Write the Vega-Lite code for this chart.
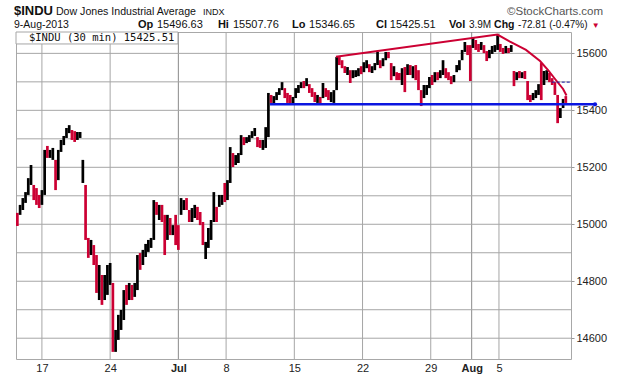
{
"$schema": "https://vega.github.io/schema/vega-lite/v6.json",
"width": 555,
"height": 327,
"autosize": {"type": "none"},
"padding": {"left": 16, "top": 32, "right": 49, "bottom": 17},
"background": "white",
"config": {"view": {"stroke": "#a8a8a8", "strokeWidth": 1}, "font": "Liberation Sans"},
"datasets": {
"xgrid": [{"t":0,"m":0},{"t":5,"m":0},{"t":10,"m":1},{"t":13.5,"m":0},{"t":18.5,"m":0},{"t":23.5,"m":0},{"t":28.5,"m":0},{"t":31.5,"m":1},{"t":33.5,"m":0}],
"ygrid": [{"v":14600},{"v":14700},{"v":14800},{"v":14900},{"v":15000},{"v":15100},{"v":15200},{"v":15300},{"v":15400},{"v":15500},{"v":15600}],
"bars": [
{"t":-1.8,"h":15040,"l":14994,"o":15040,"c":14994},
{"t":-1.6,"h":15068,"l":15033,"o":15033,"c":15068},
{"t":-1.4,"h":15092,"l":15050,"o":15050,"c":15092},
{"t":-1.2,"h":15113,"l":15075,"o":15075,"c":15113},
{"t":-1.0,"h":15162,"l":15103,"o":15103,"c":15162},
{"t":-0.8,"h":15208,"l":15138,"o":15138,"c":15208},
{"t":-0.6,"h":15138,"l":15085,"o":15138,"c":15085},
{"t":-0.4,"h":15127,"l":15068,"o":15127,"c":15068},
{"t":-0.2,"h":15103,"l":15057,"o":15103,"c":15057},
{"t":0.0,"h":15120,"l":15068,"o":15068,"c":15120},
{"t":0.2,"h":15261,"l":15103,"o":15103,"c":15261},
{"t":0.4,"h":15275,"l":15233,"o":15275,"c":15233},
{"t":0.6,"h":15261,"l":15233,"o":15233,"c":15261},
{"t":0.8,"h":15268,"l":15226,"o":15226,"c":15268},
{"t":1.0,"h":15226,"l":15120,"o":15226,"c":15120},
{"t":1.2,"h":15261,"l":15155,"o":15155,"c":15261},
{"t":1.4,"h":15296,"l":15254,"o":15254,"c":15296},
{"t":1.6,"h":15310,"l":15278,"o":15278,"c":15310},
{"t":1.8,"h":15338,"l":15303,"o":15303,"c":15338},
{"t":2.0,"h":15348,"l":15320,"o":15320,"c":15348},
{"t":2.2,"h":15331,"l":15296,"o":15331,"c":15296},
{"t":2.4,"h":15327,"l":15289,"o":15327,"c":15289},
{"t":2.6,"h":15324,"l":15296,"o":15296,"c":15324},
{"t":2.8,"h":15324,"l":15303,"o":15303,"c":15324},
{"t":3.0,"h":15226,"l":15145,"o":15145,"c":15226},
{"t":3.2,"h":15138,"l":14945,"o":15138,"c":14945},
{"t":3.4,"h":14952,"l":14882,"o":14952,"c":14882},
{"t":3.6,"h":14945,"l":14892,"o":14892,"c":14945},
{"t":3.8,"h":14927,"l":14857,"o":14927,"c":14857},
{"t":4.0,"h":14892,"l":14759,"o":14892,"c":14759},
{"t":4.2,"h":14857,"l":14734,"o":14734,"c":14857},
{"t":4.4,"h":14822,"l":14717,"o":14822,"c":14717},
{"t":4.6,"h":14822,"l":14734,"o":14734,"c":14822},
{"t":4.8,"h":14857,"l":14752,"o":14752,"c":14857},
{"t":5.0,"h":14864,"l":14787,"o":14787,"c":14864},
{"t":5.2,"h":14794,"l":14552,"o":14794,"c":14552},
{"t":5.4,"h":14629,"l":14552,"o":14552,"c":14629},
{"t":5.6,"h":14682,"l":14594,"o":14594,"c":14682},
{"t":5.8,"h":14699,"l":14629,"o":14629,"c":14699},
{"t":6.0,"h":14769,"l":14664,"o":14664,"c":14769},
{"t":6.2,"h":14787,"l":14717,"o":14787,"c":14717},
{"t":6.4,"h":14794,"l":14734,"o":14734,"c":14794},
{"t":6.6,"h":14787,"l":14734,"o":14787,"c":14734},
{"t":6.8,"h":14794,"l":14745,"o":14745,"c":14794},
{"t":7.0,"h":14892,"l":14769,"o":14769,"c":14892},
{"t":7.2,"h":14899,"l":14840,"o":14899,"c":14840},
{"t":7.4,"h":14910,"l":14857,"o":14857,"c":14910},
{"t":7.6,"h":14931,"l":14885,"o":14885,"c":14931},
{"t":7.8,"h":14945,"l":14903,"o":14903,"c":14945},
{"t":8.0,"h":14952,"l":14917,"o":14917,"c":14952},
{"t":8.2,"h":15085,"l":14945,"o":14945,"c":15085},
{"t":8.4,"h":15078,"l":15033,"o":15078,"c":15033},
{"t":8.6,"h":15068,"l":15015,"o":15015,"c":15068},
{"t":8.8,"h":15068,"l":15008,"o":15068,"c":15008},
{"t":9.0,"h":15033,"l":14892,"o":15033,"c":14892},
{"t":9.2,"h":15033,"l":14945,"o":14945,"c":15033},
{"t":9.4,"h":15022,"l":14962,"o":15022,"c":14962},
{"t":9.6,"h":14997,"l":14962,"o":14962,"c":14997},
{"t":9.8,"h":15033,"l":14927,"o":15033,"c":14927},
{"t":10.0,"h":14997,"l":14910,"o":14997,"c":14910},
{"t":10.2,"h":15092,"l":15033,"o":15033,"c":15092},
{"t":10.4,"h":15085,"l":15050,"o":15050,"c":15085},
{"t":10.6,"h":15092,"l":15050,"o":15092,"c":15050},
{"t":10.8,"h":15050,"l":15008,"o":15050,"c":15008},
{"t":11.0,"h":15057,"l":15008,"o":15008,"c":15057},
{"t":11.2,"h":15068,"l":15022,"o":15022,"c":15068},
{"t":11.4,"h":15061,"l":15015,"o":15061,"c":15015},
{"t":11.6,"h":15043,"l":14997,"o":15043,"c":14997},
{"t":11.8,"h":15008,"l":14927,"o":15008,"c":14927},
{"t":12.0,"h":14938,"l":14878,"o":14878,"c":14938},
{"t":12.2,"h":14987,"l":14917,"o":14917,"c":14987},
{"t":12.4,"h":15015,"l":14945,"o":14945,"c":15015},
{"t":12.6,"h":15113,"l":15008,"o":15008,"c":15113},
{"t":12.8,"h":15061,"l":15008,"o":15061,"c":15008},
{"t":13.0,"h":15103,"l":15061,"o":15061,"c":15103},
{"t":13.2,"h":15103,"l":15068,"o":15068,"c":15103},
{"t":13.4,"h":15145,"l":15078,"o":15145,"c":15078},
{"t":13.6,"h":15155,"l":15085,"o":15085,"c":15155},
{"t":13.8,"h":15271,"l":15145,"o":15145,"c":15271},
{"t":14.0,"h":15250,"l":15201,"o":15250,"c":15201},
{"t":14.2,"h":15243,"l":15208,"o":15208,"c":15243},
{"t":14.4,"h":15250,"l":15215,"o":15215,"c":15250},
{"t":14.6,"h":15313,"l":15243,"o":15243,"c":15313},
{"t":14.8,"h":15306,"l":15278,"o":15306,"c":15278},
{"t":15.0,"h":15306,"l":15285,"o":15285,"c":15306},
{"t":15.2,"h":15313,"l":15289,"o":15289,"c":15313},
{"t":15.4,"h":15327,"l":15303,"o":15303,"c":15327},
{"t":15.6,"h":15338,"l":15310,"o":15310,"c":15338},
{"t":15.8,"h":15306,"l":15271,"o":15306,"c":15271},
{"t":16.0,"h":15296,"l":15268,"o":15296,"c":15268},
{"t":16.2,"h":15296,"l":15261,"o":15261,"c":15296},
{"t":16.4,"h":15341,"l":15268,"o":15268,"c":15341},
{"t":16.6,"h":15461,"l":15306,"o":15306,"c":15461},
{"t":16.8,"h":15454,"l":15426,"o":15454,"c":15426},
{"t":17.0,"h":15450,"l":15422,"o":15422,"c":15450},
{"t":17.2,"h":15464,"l":15436,"o":15436,"c":15464},
{"t":17.4,"h":15478,"l":15454,"o":15454,"c":15478},
{"t":17.6,"h":15499,"l":15471,"o":15471,"c":15499},
{"t":17.8,"h":15478,"l":15443,"o":15478,"c":15443},
{"t":18.0,"h":15461,"l":15426,"o":15461,"c":15426},
{"t":18.2,"h":15454,"l":15419,"o":15454,"c":15419},
{"t":18.4,"h":15447,"l":15422,"o":15422,"c":15447},
{"t":18.6,"h":15478,"l":15443,"o":15443,"c":15478},
{"t":18.8,"h":15489,"l":15461,"o":15461,"c":15489},
{"t":19.0,"h":15499,"l":15478,"o":15478,"c":15499},
{"t":19.2,"h":15503,"l":15478,"o":15503,"c":15478},
{"t":19.4,"h":15513,"l":15485,"o":15485,"c":15513},
{"t":19.6,"h":15492,"l":15461,"o":15492,"c":15461},
{"t":19.8,"h":15478,"l":15447,"o":15478,"c":15447},
{"t":20.0,"h":15464,"l":15429,"o":15464,"c":15429},
{"t":20.2,"h":15454,"l":15426,"o":15426,"c":15454},
{"t":20.4,"h":15447,"l":15422,"o":15447,"c":15422},
{"t":20.6,"h":15496,"l":15443,"o":15443,"c":15496},
{"t":20.8,"h":15478,"l":15447,"o":15478,"c":15447},
{"t":21.0,"h":15471,"l":15436,"o":15471,"c":15436},
{"t":21.2,"h":15464,"l":15429,"o":15429,"c":15464},
{"t":21.4,"h":15471,"l":15426,"o":15426,"c":15471},
{"t":21.6,"h":15587,"l":15471,"o":15471,"c":15587},
{"t":21.8,"h":15587,"l":15559,"o":15587,"c":15559},
{"t":22.0,"h":15576,"l":15548,"o":15576,"c":15548},
{"t":22.2,"h":15555,"l":15531,"o":15555,"c":15531},
{"t":22.4,"h":15552,"l":15524,"o":15524,"c":15552},
{"t":22.6,"h":15541,"l":15496,"o":15541,"c":15496},
{"t":22.8,"h":15541,"l":15513,"o":15513,"c":15541},
{"t":23.0,"h":15541,"l":15517,"o":15517,"c":15541},
{"t":23.2,"h":15548,"l":15520,"o":15520,"c":15548},
{"t":23.4,"h":15555,"l":15527,"o":15555,"c":15527},
{"t":23.6,"h":15569,"l":15534,"o":15534,"c":15569},
{"t":23.8,"h":15576,"l":15548,"o":15548,"c":15576},
{"t":24.0,"h":15562,"l":15534,"o":15562,"c":15534},
{"t":24.2,"h":15555,"l":15531,"o":15531,"c":15555},
{"t":24.4,"h":15566,"l":15541,"o":15541,"c":15566},
{"t":24.6,"h":15605,"l":15559,"o":15559,"c":15605},
{"t":24.8,"h":15576,"l":15548,"o":15576,"c":15548},
{"t":25.0,"h":15583,"l":15555,"o":15555,"c":15583},
{"t":25.2,"h":15605,"l":15576,"o":15576,"c":15605},
{"t":25.4,"h":15605,"l":15583,"o":15605,"c":15583},
{"t":25.6,"h":15566,"l":15506,"o":15566,"c":15506},
{"t":25.8,"h":15555,"l":15520,"o":15520,"c":15555},
{"t":26.0,"h":15534,"l":15506,"o":15534,"c":15506},
{"t":26.2,"h":15531,"l":15506,"o":15531,"c":15506},
{"t":26.4,"h":15548,"l":15489,"o":15489,"c":15548},
{"t":26.6,"h":15552,"l":15464,"o":15552,"c":15464},
{"t":26.8,"h":15562,"l":15524,"o":15524,"c":15562},
{"t":27.0,"h":15559,"l":15524,"o":15559,"c":15524},
{"t":27.2,"h":15555,"l":15513,"o":15513,"c":15555},
{"t":27.4,"h":15559,"l":15506,"o":15559,"c":15506},
{"t":27.6,"h":15541,"l":15471,"o":15541,"c":15471},
{"t":27.8,"h":15471,"l":15415,"o":15471,"c":15415},
{"t":28.0,"h":15489,"l":15443,"o":15443,"c":15489},
{"t":28.2,"h":15489,"l":15454,"o":15454,"c":15489},
{"t":28.4,"h":15517,"l":15478,"o":15478,"c":15517},
{"t":28.6,"h":15524,"l":15489,"o":15524,"c":15489},
{"t":28.8,"h":15534,"l":15499,"o":15499,"c":15534},
{"t":29.0,"h":15534,"l":15506,"o":15534,"c":15506},
{"t":29.2,"h":15541,"l":15513,"o":15513,"c":15541},
{"t":29.4,"h":15576,"l":15524,"o":15524,"c":15576},
{"t":29.6,"h":15548,"l":15513,"o":15548,"c":15513},
{"t":29.8,"h":15534,"l":15506,"o":15534,"c":15506},
{"t":30.0,"h":15520,"l":15492,"o":15520,"c":15492},
{"t":30.2,"h":15524,"l":15499,"o":15499,"c":15524},
{"t":30.4,"h":15559,"l":15534,"o":15534,"c":15559},
{"t":30.6,"h":15576,"l":15541,"o":15541,"c":15576},
{"t":30.8,"h":15612,"l":15576,"o":15576,"c":15612},
{"t":31.0,"h":15640,"l":15605,"o":15605,"c":15640},
{"t":31.2,"h":15629,"l":15594,"o":15629,"c":15594},
{"t":31.4,"h":15629,"l":15503,"o":15629,"c":15503},
{"t":31.6,"h":15654,"l":15619,"o":15619,"c":15654},
{"t":31.8,"h":15647,"l":15612,"o":15647,"c":15612},
{"t":32.0,"h":15633,"l":15605,"o":15633,"c":15605},
{"t":32.2,"h":15640,"l":15612,"o":15612,"c":15640},
{"t":32.4,"h":15629,"l":15601,"o":15629,"c":15601},
{"t":32.6,"h":15608,"l":15573,"o":15608,"c":15573},
{"t":32.8,"h":15612,"l":15583,"o":15583,"c":15612},
{"t":33.0,"h":15626,"l":15598,"o":15598,"c":15626},
{"t":33.2,"h":15629,"l":15605,"o":15605,"c":15629},
{"t":33.4,"h":15664,"l":15612,"o":15612,"c":15664},
{"t":33.6,"h":15633,"l":15605,"o":15633,"c":15605},
{"t":33.8,"h":15619,"l":15598,"o":15619,"c":15598},
{"t":34.0,"h":15626,"l":15601,"o":15601,"c":15626},
{"t":34.2,"h":15619,"l":15601,"o":15619,"c":15601},
{"t":34.4,"h":15629,"l":15605,"o":15605,"c":15629},
{"t":34.6,"h":15538,"l":15485,"o":15538,"c":15485},
{"t":34.8,"h":15534,"l":15506,"o":15506,"c":15534},
{"t":35.0,"h":15538,"l":15513,"o":15538,"c":15513},
{"t":35.2,"h":15534,"l":15513,"o":15513,"c":15534},
{"t":35.4,"h":15538,"l":15510,"o":15538,"c":15510},
{"t":35.6,"h":15503,"l":15436,"o":15503,"c":15436},
{"t":35.8,"h":15454,"l":15429,"o":15454,"c":15429},
{"t":36.0,"h":15461,"l":15436,"o":15436,"c":15461},
{"t":36.2,"h":15471,"l":15443,"o":15443,"c":15471},
{"t":36.4,"h":15492,"l":15454,"o":15454,"c":15492},
{"t":36.6,"h":15566,"l":15436,"o":15566,"c":15436},
{"t":36.8,"h":15538,"l":15489,"o":15489,"c":15538},
{"t":37.0,"h":15541,"l":15506,"o":15506,"c":15541},
{"t":37.2,"h":15531,"l":15499,"o":15531,"c":15499},
{"t":37.4,"h":15513,"l":15489,"o":15513,"c":15489},
{"t":37.6,"h":15499,"l":15454,"o":15499,"c":15454},
{"t":37.8,"h":15454,"l":15355,"o":15454,"c":15355},
{"t":38.0,"h":15408,"l":15373,"o":15373,"c":15408},
{"t":38.2,"h":15440,"l":15408,"o":15408,"c":15440},
{"t":38.4,"h":15450,"l":15426,"o":15450,"c":15426}
],
"upper": [
{"t":21.55,"v":15588},{"t":33.39,"v":15666},{"t":34.31,"v":15641},{"t":35.48,"v":15612},{"t":36.51,"v":15573},{"t":37.10,"v":15541},{"t":37.61,"v":15510},{"t":38.20,"v":15475},{"t":38.45,"v":15452}
],
"support": [{"t":16.72,"v":15421},{"t":40.54,"v":15421}],
"prevclose": [{"t":37.37,"v":15499},{"t":38.71,"v":15499}]
},
"layer": [
{
"data": {"name": "xgrid"},
"mark": {"type": "rule", "strokeWidth": 1},
"encoding": {
"x": {"field": "t", "type": "quantitative"},
"color": {"condition": {"test": "datum.m == 1", "value": "#8a8a8a"}, "value": "#a6a6a6"}
}
},
{
"data": {"name": "ygrid"},
"mark": {"type": "rule", "strokeWidth": 1, "color": "#a6a6a6"},
"encoding": {
"y": {"field": "v", "type": "quantitative"}
}
},
{
"data": {"values": [{}]},
"mark": {"type": "rect", "fill": "white", "stroke": "#a6a6a6", "strokeWidth": 1},
"encoding": {
"x": {"datum": -1.9, "type": "quantitative"},
"x2": {"datum": 9.97},
"y": {"datum": 15675, "type": "quantitative"},
"y2": {"datum": 15633}
}
},
{
"data": {"name": "bars"},
"mark": {"type": "rule", "strokeWidth": 2.7},
"encoding": {
"x": {"field": "t", "type": "quantitative", "scale": {"domain": [-1.9, 38.78], "nice": false, "zero": false},
"axis": {"title": null, "values": [0, 5, 10, 13.5, 18.5, 23.5, 28.5, 31.5, 33.5],
"labelExpr": "datum.value==0?'17':datum.value==5?'24':datum.value==10?'Jul':datum.value==13.5?'8':datum.value==18.5?'15':datum.value==23.5?'22':datum.value==28.5?'29':datum.value==31.5?'Aug':'5'",
"labelFontSize": 11, "labelColor": "#222222",
"labelFontWeight": {"condition": {"test": "datum.value==10||datum.value==31.5", "value": "bold"}, "value": "normal"},
"ticks": false, "domain": false, "labelPadding": 3, "grid": false}},
"y": {"field": "h", "type": "quantitative", "scale": {"domain": [14527, 15675], "nice": false, "zero": false},
"axis": {"title": null, "orient": "right", "values": [14600, 14700, 14800, 14900, 15000, 15100, 15200, 15300, 15400, 15500, 15600],
"format": "d", "labelFontSize": 11, "labelColor": "#222222", "tickSize": 3, "tickColor": "#999999", "domain": false,
"labelPadding": 2, "labelOverlap": false, "grid": false}},
"y2": {"field": "l"},
"color": {"condition": {"test": "datum.c >= datum.o", "value": "#000000"}, "value": "#cc0033"}
}
},
{
"data": {"name": "upper"},
"mark": {"type": "line", "color": "#cc0033", "strokeWidth": 2},
"encoding": {"x": {"field": "t", "type": "quantitative"}, "y": {"field": "v", "type": "quantitative"}}
},
{
"data": {"name": "support"},
"mark": {"type": "line", "color": "#0b16e0", "strokeWidth": 2.5},
"encoding": {"x": {"field": "t", "type": "quantitative"}, "y": {"field": "v", "type": "quantitative"}}
},
{
"data": {"name": "support"},
"transform": [{"filter": "datum.t > 40"}],
"mark": {"type": "point", "filled": true, "color": "#0b16e0", "size": 18, "opacity": 1},
"encoding": {"x": {"field": "t", "type": "quantitative"}, "y": {"field": "v", "type": "quantitative"}}
},
{
"data": {"name": "prevclose"},
"mark": {"type": "line", "color": "#1a1aa8", "strokeWidth": 1, "strokeDash": [3, 2]},
"encoding": {"x": {"field": "t", "type": "quantitative"}, "y": {"field": "v", "type": "quantitative"}}
},
{
"data": {"values": [{}]},
"mark": {"type": "text", "text": "$INDU (30 min) 15425.51", "font": "DejaVu Sans Mono", "fontSize": 10.5, "align": "left", "baseline": "alphabetic", "color": "#111111"},
"encoding": {"x": {"datum": -0.95, "type": "quantitative"}, "y": {"datum": 15645, "type": "quantitative"}}
},
{
"data": {"values": [{}]},
"mark": {"type": "text", "text": "$INDU", "fontSize": 13, "fontWeight": "bold", "align": "left", "baseline": "alphabetic", "color": "#111111"},
"encoding": {"x": {"datum": -2.05, "type": "quantitative"}, "y": {"datum": 15736, "type": "quantitative"}}
},
{
"data": {"values": [{}]},
"mark": {"type": "text", "text": "Dow Jones Industrial Average", "fontSize": 10.6, "align": "left", "baseline": "alphabetic", "color": "#111111"},
"encoding": {"x": {"datum": 1.03, "type": "quantitative"}, "y": {"datum": 15736, "type": "quantitative"}}
},
{
"data": {"values": [{}]},
"mark": {"type": "text", "text": "INDX", "fontSize": 9, "align": "left", "baseline": "alphabetic", "color": "#111111"},
"encoding": {"x": {"datum": 11.8, "type": "quantitative"}, "y": {"datum": 15736, "type": "quantitative"}}
},
{
"data": {"values": [{}]},
"mark": {"type": "text", "text": "©StockCharts.com", "fontSize": 11.5, "align": "right", "baseline": "alphabetic", "color": "#555555"},
"encoding": {"x": {"datum": 41.13, "type": "quantitative"}, "y": {"datum": 15736, "type": "quantitative"}}
},
{
"data": {"values": [{}]},
"mark": {"type": "text", "text": "9-Aug-2013", "fontSize": 10.5, "align": "left", "baseline": "alphabetic", "color": "#111111"},
"encoding": {"x": {"datum": -2.05, "type": "quantitative"}, "y": {"datum": 15690, "type": "quantitative"}}
},
{"data": {"values": [{}]}, "mark": {"type": "text", "text": "Op", "fontSize": 11, "fontWeight": "bold", "align": "left", "baseline": "alphabetic", "color": "#111111"},
"encoding": {"x": {"datum": 7.04, "type": "quantitative"}, "y": {"datum": 15690, "type": "quantitative"}}},
{"data": {"values": [{}]}, "mark": {"type": "text", "text": "15496.63", "fontSize": 11, "align": "left", "baseline": "alphabetic", "color": "#111111"},
"encoding": {"x": {"datum": 8.43, "type": "quantitative"}, "y": {"datum": 15690, "type": "quantitative"}}},
{"data": {"values": [{}]}, "mark": {"type": "text", "text": "Hi", "fontSize": 11, "fontWeight": "bold", "align": "left", "baseline": "alphabetic", "color": "#111111"},
"encoding": {"x": {"datum": 12.9, "type": "quantitative"}, "y": {"datum": 15690, "type": "quantitative"}}},
{"data": {"values": [{}]}, "mark": {"type": "text", "text": "15507.76", "fontSize": 11, "align": "left", "baseline": "alphabetic", "color": "#111111"},
"encoding": {"x": {"datum": 14.0, "type": "quantitative"}, "y": {"datum": 15690, "type": "quantitative"}}},
{"data": {"values": [{}]}, "mark": {"type": "text", "text": "Lo", "fontSize": 11, "fontWeight": "bold", "align": "left", "baseline": "alphabetic", "color": "#111111"},
"encoding": {"x": {"datum": 18.33, "type": "quantitative"}, "y": {"datum": 15690, "type": "quantitative"}}},
{"data": {"values": [{}]}, "mark": {"type": "text", "text": "15346.65", "fontSize": 11, "align": "left", "baseline": "alphabetic", "color": "#111111"},
"encoding": {"x": {"datum": 19.58, "type": "quantitative"}, "y": {"datum": 15690, "type": "quantitative"}}},
{"data": {"values": [{}]}, "mark": {"type": "text", "text": "Cl", "fontSize": 11, "fontWeight": "bold", "align": "left", "baseline": "alphabetic", "color": "#111111"},
"encoding": {"x": {"datum": 24.49, "type": "quantitative"}, "y": {"datum": 15690, "type": "quantitative"}}},
{"data": {"values": [{}]}, "mark": {"type": "text", "text": "15425.51", "fontSize": 11, "align": "left", "baseline": "alphabetic", "color": "#111111"},
"encoding": {"x": {"datum": 25.5, "type": "quantitative"}, "y": {"datum": 15690, "type": "quantitative"}}},
{"data": {"values": [{}]}, "mark": {"type": "text", "text": "Vol", "fontSize": 11, "fontWeight": "bold", "align": "left", "baseline": "alphabetic", "color": "#111111"},
"encoding": {"x": {"datum": 29.84, "type": "quantitative"}, "y": {"datum": 15690, "type": "quantitative"}}},
{"data": {"values": [{}]}, "mark": {"type": "text", "text": "3.9M", "fontSize": 10, "align": "left", "baseline": "alphabetic", "color": "#111111"},
"encoding": {"x": {"datum": 31.3, "type": "quantitative"}, "y": {"datum": 15690, "type": "quantitative"}}},
{"data": {"values": [{}]}, "mark": {"type": "text", "text": "Chg", "fontSize": 10.5, "fontWeight": "bold", "align": "left", "baseline": "alphabetic", "color": "#111111"},
"encoding": {"x": {"datum": 33.14, "type": "quantitative"}, "y": {"datum": 15690, "type": "quantitative"}}},
{"data": {"values": [{}]}, "mark": {"type": "text", "text": "-72.81 (-0.47%)", "fontSize": 10, "align": "left", "baseline": "alphabetic", "color": "#111111"},
"encoding": {"x": {"datum": 34.9, "type": "quantitative"}, "y": {"datum": 15690, "type": "quantitative"}}},
{"data": {"values": [{}]}, "mark": {"type": "text", "text": "▼", "fontSize": 8, "align": "left", "baseline": "alphabetic", "color": "#cc0033"},
"encoding": {"x": {"datum": 40.3, "type": "quantitative"}, "y": {"datum": 15690, "type": "quantitative"}}}
]
}
